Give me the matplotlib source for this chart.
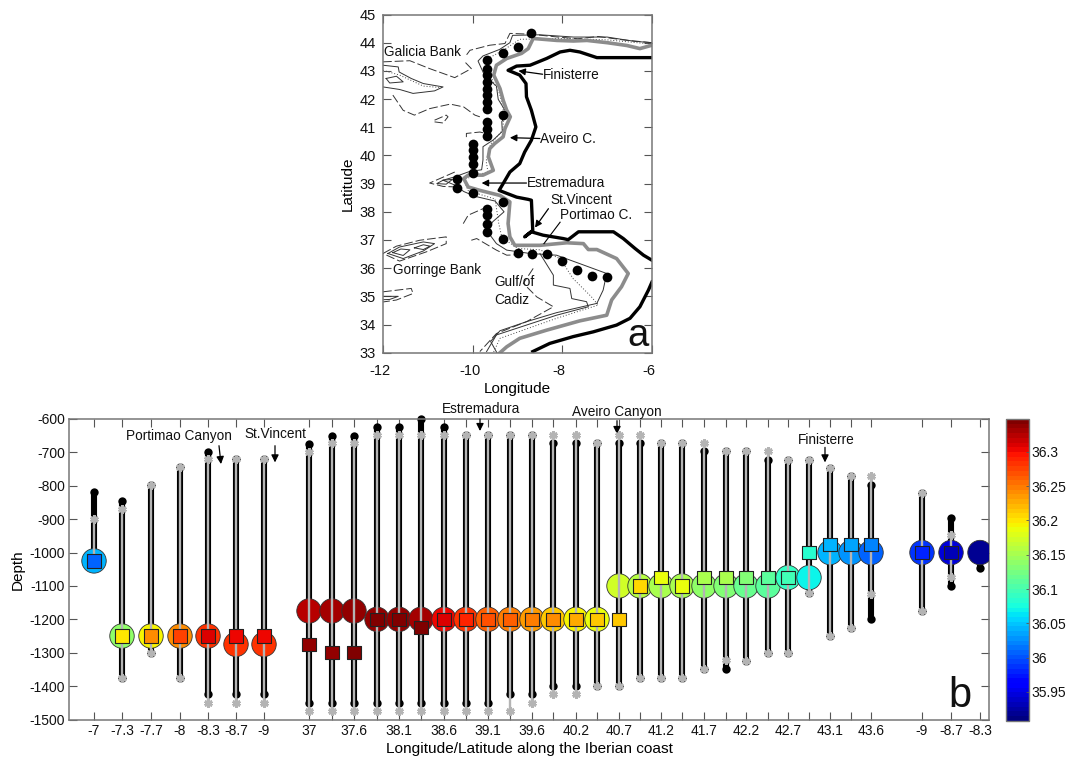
import matplotlib
matplotlib.use('Agg')
import matplotlib.pyplot as plt
import matplotlib.transforms as mtrans

plt.rcParams['font.family'] = ['Liberation Sans', 'DejaVu Sans']
plt.rcParams['axes.unicode_minus'] = False

W, H = 1067, 757

# ---- panel a: map
thick_black_n = [(-6, 43.47), (-7.23, 43.47), (-7.61, 43.67), (-7.83, 43.73), (-8.05, 43.67), (-8.35, 43.44),
                 (-8.72, 43.2), (-9.02, 43.17), (-9.21, 43.02), (-8.95, 42.85), (-8.81, 42.55), (-8.8, 42.08),
                 (-8.69, 41.6), (-8.59, 41.01), (-8.69, 40.54), (-8.84, 40.12), (-8.95, 39.71), (-9.17, 39.41),
                 (-9.32, 39.0), (-9.41, 38.76), (-9.25, 38.66), (-9.02, 38.52), (-8.76, 38.44), (-8.69, 38.41),
                 (-8.66, 37.34), (-8.84, 37.11), (-8.69, 37.29), (-8.43, 37.17), (-7.98, 37.05), (-7.87, 37.01),
                 (-7.64, 37.29), (-6.86, 37.29), (-6.64, 37.05), (-6.38, 36.7), (-6.19, 36.46), (-6, 36.28)]
thick_black_s = [(-6, 35.51), (-6.08, 35.22), (-6.27, 34.63), (-6.49, 34.22), (-6.79, 33.98), (-7.31, 33.74),
                 (-7.76, 33.57), (-8.28, 33.33), (-8.66, 33.04)]
thick_gray = [(-6, 43.91), (-6.27, 43.79), (-6.56, 43.9), (-7.0, 44.0), (-7.45, 44.08), (-7.75, 44.06), (-8.12, 44.08),
              (-8.65, 44.15), (-8.76, 43.79), (-8.91, 43.62), (-9.24, 43.44), (-9.47, 43.2), (-9.53, 42.85),
              (-9.39, 42.37), (-9.32, 41.96), (-9.24, 41.6), (-9.16, 41.37), (-9.28, 40.95), (-9.32, 40.66),
              (-9.51, 40.42), (-9.62, 40.24), (-9.65, 39.95), (-9.54, 39.47), (-9.77, 39.3), (-10.1, 39.3),
              (-10.2, 39.18), (-10.1, 38.88), (-9.84, 38.76), (-9.39, 38.58), (-9.17, 38.35), (-9.21, 37.58),
              (-9.17, 37.11), (-9.06, 36.81), (-8.5, 36.81), (-7.9, 36.9), (-7.53, 36.87), (-7.42, 36.66),
              (-7.23, 36.66), (-6.79, 36.34), (-6.53, 35.81), (-6.68, 35.34), (-6.9, 34.87), (-7.01, 34.33),
              (-7.61, 34.13), (-8.35, 33.8), (-8.95, 33.51), (-9.24, 33.21), (-9.39, 33)]

thin_lines = [
    [(-6, 44.0), (-6.4, 44.05), (-7.0, 44.2), (-7.75, 44.2), (-8.5, 44.28), (-9.11, 44.26), (-9.17, 44.0), (-9.4, 43.76),
     (-9.77, 43.53), (-9.88, 43.35), (-9.73, 42.82), (-9.47, 42.46), (-9.43, 41.99), (-9.24, 41.5), (-9.35, 41.2),
     (-9.34, 40.85), (-9.54, 40.55), (-9.77, 40.31), (-9.77, 39.84), (-9.8, 39.49), (-10.07, 39.43), (-10.4, 39.24),
     (-10.66, 39.12), (-10.4, 38.95), (-10.2, 38.72), (-9.95, 38.55), (-9.5, 38.38), (-9.3, 38.0), (-9.55, 37.65),
     (-9.69, 37.34), (-9.47, 36.87), (-9.24, 36.64), (-8.72, 36.52), (-8.13, 36.46), (-7.61, 36.16), (-7.01, 35.81),
     (-7.09, 35.22), (-7.23, 34.75)],
    [(-8.5, 36.52), (-8.2, 35.75), (-8.2, 35.4), (-7.83, 35.28), (-7.79, 34.92), (-7.46, 34.81), (-7.42, 34.63),
     (-8.13, 34.33), (-8.8, 33.98), (-9.47, 33.63), (-9.69, 33.04)],
    [(-7.23, 34.75), (-8.13, 34.42), (-8.8, 34.1), (-9.39, 33.78), (-9.6, 33.4), (-9.46, 33.0)],
    [(-12, 43.2), (-11.66, 43.14), (-11.64, 42.96), (-11.37, 42.73), (-11.1, 42.55), (-10.66, 42.43), (-10.85, 42.29),
     (-11.33, 42.2), (-11.63, 42.34), (-12, 42.43)],
    [(-11.93, 42.73), (-11.7, 42.81), (-11.55, 42.61), (-11.85, 42.57), (-11.93, 42.73)],
    [(-11.89, 36.52), (-11.63, 36.75), (-11.1, 36.93), (-10.85, 36.87), (-11.1, 36.61), (-11.55, 36.34), (-11.89, 36.52)],
    [(-11.78, 36.55), (-11.6, 36.68), (-11.4, 36.65), (-11.55, 36.45), (-11.78, 36.55)],
    [(-11.3, 36.72), (-11.1, 36.83), (-10.95, 36.78), (-11.1, 36.66), (-11.3, 36.72)],
    [(-12, 35.0), (-11.66, 35.0), (-11.85, 34.89), (-12, 34.88)],
    [(-10.66, 39.12), (-10.45, 39.15), (-10.59, 38.98), (-10.8, 39.0), (-10.66, 39.12)],
]
dotted_lines = [
    [(-6, 43.95), (-7.0, 44.1), (-8.0, 44.15), (-8.95, 44.12), (-9.3, 43.75), (-9.7, 43.4), (-9.6, 42.8), (-9.4, 42.2),
     (-9.3, 41.5), (-9.33, 40.9), (-9.6, 40.4), (-9.7, 39.8), (-9.66, 39.42), (-10.2, 39.15), (-10.1, 38.75),
     (-9.5, 38.45), (-9.42, 37.6), (-9.35, 37.1), (-9.0, 36.7), (-8.5, 36.65), (-8.05, 36.34), (-7.76, 35.63),
     (-7.35, 34.98), (-7.2, 34.69), (-8.13, 34.22), (-9.39, 33.51), (-9.54, 33)],
    [(-12, 43.02), (-11.63, 42.85), (-11.1, 42.46), (-10.73, 42.41)],
]
dashed_lines = [
    [(-6, 44.0), (-6.65, 44.1), (-7.2, 44.22), (-7.65, 44.14), (-8.1, 44.2), (-8.7, 44.3), (-9.17, 44.33), (-9.28, 43.97),
     (-9.62, 43.91), (-10.06, 43.73), (-10.14, 43.56)],
    [(-12, 43.32), (-11.4, 43.36), (-10.96, 43.08), (-10.4, 42.76), (-10.03, 43.08), (-10.2, 43.36)],
    [(-11.78, 42.14), (-11.55, 41.6), (-11.3, 41.43), (-10.96, 41.66), (-10.5, 41.82), (-10.2, 41.72), (-9.95, 41.43),
     (-9.84, 41.37)],
    [(-10.85, 41.25), (-10.59, 41.43), (-10.55, 41.37), (-10.66, 41.15), (-10.85, 41.19)],
    [(-10.14, 40.65), (-10.14, 40.78), (-9.84, 40.83), (-9.7, 40.78)],
    [(-10.4, 39.41), (-10.96, 39.02), (-10.66, 38.9), (-10.36, 38.88)],
    [(-10.21, 37.58), (-10.1, 37.88), (-9.77, 38.11)],
    [(-10.03, 36.99), (-9.91, 37.05), (-9.47, 36.64), (-9.24, 36.46), (-8.9, 36.48)],
    [(-8.65, 35.99), (-8.87, 35.46), (-8.57, 34.98), (-8.2, 34.63), (-8.8, 34.1), (-9.47, 33.68), (-9.84, 33.04)],
    [(-12, 36.52), (-11.7, 36.78), (-11.18, 36.99), (-10.59, 37.11), (-10.59, 36.87), (-11.03, 36.58), (-11.63, 36.25),
     (-12, 36.52)],
    [(-12, 35.16), (-11.37, 35.28), (-11.33, 35.1), (-11.7, 34.87), (-12, 34.8)],
]
station_lon = [-8.69, -9, -9.32, -9.68, -9.68, -9.68, -9.68, -9.68, -9.68, -9.68, -9.68, -9.32, -9.68, -9.68, -9.68,
               -9.99, -9.99, -9.99, -9.99, -9.99, -10.35, -10.35, -10, -9.33, -9.68, -9.68, -9.68, -9.68, -9.33,
               -9, -8.68, -8.34, -8.01, -7.67, -7.34, -7.01]
station_lat = [44.35, 43.85, 43.62, 43.38, 43.08, 42.85, 42.61, 42.37, 42.14, 41.9, 41.66, 41.43, 41.19, 40.95, 40.68,
               40.42, 40.18, 39.95, 39.71, 39.38, 39.18, 38.86, 38.65, 38.35, 38.11, 37.88, 37.58, 37.29, 37.05,
               36.52, 36.49, 36.49, 36.25, 35.95, 35.72, 35.69]
map_labels = [('Galicia Bank', -11.98, 43.66), ('Finisterre', -8.43, 42.85), ('Aveiro C.', -8.5, 40.6),
              ('Estremadura', -8.79, 39.03), ('St.Vincent', -8.27, 38.41), ('Portimao C.', -8.05, 37.88),
              ('Gorringe Bank', -11.78, 35.93), ('Gulf/of', -9.52, 35.5), ('Cadiz', -9.52, 34.87)]
map_arrows = [(-8.44, 42.88, -8.98, 43.0), (-8.5, 40.6, -9.17, 40.63), (-8.8, 39.02, -9.8, 39.02),
              (-8.31, 38.11, -8.61, 37.44)]

# ---- panel b: section
pos = [94, 122, 151, 180, 208, 236, 264, 309, 332, 354, 377, 399, 421, 444, 466, 488, 510, 532, 553, 576, 597, 619,
       640, 661, 682, 704, 726, 746, 768, 788, 809, 830, 851, 871, 922, 951, 980]
pos_labels = ['-7', '-7.3', '-7.7', '-8', '-8.3', '-8.7', '-9', '37', '', '37.6', '', '38.1', '', '38.6', '', '39.1',
              '', '39.6', '', '40.2', '', '40.7', '', '41.2', '', '41.7', '', '42.2', '', '42.7', '', '43.1', '',
              '43.6', '-9', '-8.7', '-8.3']
black_top = [-820, -847, -797, -745, -700, -720, -720, -675, -650, -650, -623, -623, -600, -623, -648, -648, -648,
             -648, -672, -672, -672, -672, -672, -672, -672, -697, -697, -697, -722, -722, -722, -747, -772, -797,
             -822, -897, -1000]
black_bot = [-1025, -1375, -1300, -1375, -1425, -1425, -1425, -1450, -1450, -1450, -1450, -1450, -1450, -1450, -1450,
             -1450, -1425, -1425, -1400, -1400, -1400, -1400, -1375, -1375, -1375, -1350, -1350, -1325, -1300, -1300,
             -1122, -1250, -1225, -1200, -1175, -1100, -1047]
gray_top = [-900, -870, -797, -745, -720, -720, -720, -700, -672, -672, -648, -648, -648, -648, -648, -648, -648,
            -648, -648, -648, -672, -648, -648, -672, -672, -672, -697, -697, -697, -722, -722, -747, -772, -772,
            -822, -947, None]
gray_bot = [-1025, -1375, -1300, -1375, -1450, -1450, -1450, -1475, -1475, -1475, -1475, -1475, -1475, -1475, -1475,
            -1475, -1475, -1450, -1425, -1425, -1400, -1400, -1375, -1375, -1375, -1350, -1322, -1325, -1300, -1300,
            -1122, -1250, -1225, -1125, -1175, -1073, None]
circle_depth = [-1025, -1250, -1250, -1250, -1250, -1275, -1275, -1175, -1175, -1175, -1200, -1200, -1200, -1200,
                -1200, -1200, -1200, -1200, -1200, -1200, -1200, -1100, -1100, -1100, -1100, -1100, -1100, -1100,
                -1100, -1075, -1075, -1000, -1000, -1000, -1000, -1000, -1000]
circle_sal = [36.045, 36.14, 36.19, 36.24, 36.28, 36.285, 36.285, 36.325, 36.33, 36.335, 36.335, 36.335, 36.33, 36.30,
              36.285, 36.26, 36.25, 36.235, 36.215, 36.195, 36.185, 36.17, 36.16, 36.155, 36.15, 36.14, 36.13, 36.12,
              36.11, 36.09, 36.07, 36.045, 36.025, 36.01, 35.985, 35.945, 35.92]
square_depth = [-1025, -1250, -1250, -1250, -1250, -1250, -1250, -1275, -1300, -1300, -1200, -1200, -1225, -1200,
                -1200, -1200, -1200, -1200, -1200, -1200, -1200, -1200, -1100, -1075, -1100, -1075, -1075, -1075,
                -1075, -1075, -1000, -975, -975, -975, -1000, -1000, None]
square_sal = [36.007, 36.2, 36.238, 36.278, 36.31, 36.30, 36.30, 36.335, 36.34, 36.348, 36.348, 36.348, 36.348, 36.31,
              36.29, 36.27, 36.265, 36.25, 36.24, 36.23, 36.215, 36.215, 36.205, 36.185, 36.185, 36.155, 36.15, 36.13,
              36.11, 36.095, 36.08, 36.045, 36.035, 36.02, 35.98, 35.93, None]
section_labels = [('Portimao Canyon', 126, -650), ('St.Vincent', 244, -645), ('Estremadura', 442, -570),
                  ('Aveiro Canyon', 572, -578), ('Finisterre', 798, -662)]
section_arrows = [(219, -680, 221, -735), (275, -680, 275, -730), (480, -600, 480, -636), (617, -605, 617, -645),
                  (825, -685, 825, -730)]
cb_ticks = [35.95, 36, 36.05, 36.1, 36.15, 36.2, 36.25, 36.3]
cb_labels = ['35.95', '36', '36.05', '36.1', '36.15', '36.2', '36.25', '36.3']
sal_min, sal_max = 35.908, 36.348
depth_ticks = list(range(-1500, -500, 100))


def px_axes(left, top, right, bottom):
    return fig.add_axes([left / W, 1 - bottom / H, (right - left) / W, (bottom - top) / H])


def draw(ax, pts, **kw):
    ax.plot([p[0] for p in pts], [p[1] for p in pts], **kw)


def style(ax, size):
    ax.tick_params(direction='in', top=True, right=True, length=5.5, width=0.8, color='#555555', labelsize=size,
                   labelcolor='#111111', pad=3)
    for s in ax.spines.values():
        s.set_color('#777777')
        s.set_linewidth(1.1)


fig = plt.figure(figsize=(W / 100, H / 100), dpi=100)
cmap = plt.get_cmap('jet', 64)
norm = plt.Normalize(sal_min, sal_max)
shift = mtrans.ScaledTranslation(-3 / 100, 0, fig.dpi_scale_trans)

#Map.
ax = px_axes(383, 14.5, 652, 352.7)
for line in dashed_lines:
    draw(ax, line, color='#333333', lw=0.7, ls=(0, (9, 3)))
for line in thin_lines:
    draw(ax, line, color='#333333', lw=0.7)
for line in dotted_lines:
    draw(ax, line, color='#444444', lw=0.7, ls=(0, (1, 2)))
draw(ax, thick_gray, color='#8c8c8c', lw=2.6)
draw(ax, thick_black_n, color='black', lw=2.4)
draw(ax, thick_black_s, color='black', lw=2.4)
ax.plot(station_lon, station_lat, 'o', color='black', ms=7, mew=0, zorder=4)
for txt, x, y in map_labels:
    ax.text(x, y, txt, fontsize=9.8, va='center', ha='left', color='#111111', zorder=5)
for x0, y0, x1, y1 in map_arrows:
    ax.annotate('', xy=(x1, y1), xytext=(x0, y0), arrowprops=dict(arrowstyle='-|>', color='black', lw=0.9,
                                                                  mutation_scale=10, shrinkA=0, shrinkB=0))
ax.plot([-8.05, -8.41], [37.63, 36.87], color='black', lw=0.8)
ax.text(-6.55, 33.24, 'a', fontsize=27.5, va='baseline', ha='left', color='#111111')
ax.set_xlim(-12, -6)
ax.set_ylim(33, 45)
ax.set_xticks([-12, -10, -8, -6])
ax.set_yticks(range(33, 46))
style(ax, 10.5)
ax.tick_params(axis='x', pad=8)
ax.tick_params(axis='y', pad=5)
for lab in ax.get_xticklabels():
    lab.set_transform(lab.get_transform() + shift)
ax.set_xlabel('Longitude', fontsize=11, labelpad=3)
ax.set_ylabel('Latitude', fontsize=11, labelpad=3.5)

#Section.
ax = px_axes(69, 419, 989, 719.5)
ax.vlines(pos, black_top, black_bot, color='black', lw=4.4, zorder=2)
ax.plot(pos, black_top, 'o', color='black', ms=6, mew=0, zorder=2.1, clip_on=False)
ax.plot(pos, black_bot, 'o', color='black', ms=6, mew=0, zorder=2.1)
ax.scatter(pos, circle_depth, s=310, c=circle_sal, cmap=cmap, norm=norm, edgecolors='#333333', linewidths=0.6, zorder=3)
ax.vlines(pos[:-1], gray_top[:-1], gray_bot[:-1], color='#b4b4b4', lw=1.7, zorder=4)
ax.plot(pos[:-1], gray_top[:-1], ls='none', marker=(6, 2, 0), color='#b4b4b4', ms=6, mew=2, zorder=4.1)
ax.plot(pos[:-1], gray_bot[:-1], ls='none', marker=(6, 2, 0), color='#b4b4b4', ms=6, mew=2, zorder=4.1)
ax.scatter(pos[:-1], square_depth[:-1], s=92, marker='s', c=square_sal[:-1], cmap=cmap, norm=norm, edgecolors='#222222',
           linewidths=0.8, zorder=5)
for txt, x, y in section_labels:
    ax.text(x, y, txt, fontsize=9.8, va='center', ha='left', color='#111111', zorder=6, clip_on=False)
for x0, y0, x1, y1 in section_arrows:
    ax.annotate('', xy=(x1, y1), xytext=(x0, y0), arrowprops=dict(arrowstyle='-|>', color='black', lw=0.9,
                                                                  mutation_scale=11, shrinkA=0, shrinkB=0))
ax.text(948, -1463, 'b', fontsize=30, va='baseline', ha='left', color='#111111')
ax.set_xlim(69, 989)
ax.set_ylim(-1500, -600)
ax.set_xticks(pos)
ax.set_xticklabels(pos_labels)
ax.set_yticks(depth_ticks)
style(ax, 10)
for lab in ax.get_xticklabels():
    lab.set_transform(lab.get_transform() + shift)
ax.tick_params(axis='x', pad=3.5)
ax.set_xlabel('Longitude/Latitude along the Iberian coast', fontsize=11.1, labelpad=2.5)
ax.set_ylabel('Depth', fontsize=11, labelpad=3)

#Colorbar.
cax = px_axes(1005.7, 419, 1029, 720.7)
sm = plt.cm.ScalarMappable(norm=norm, cmap=cmap)
cb = fig.colorbar(sm, cax=cax, ticks=cb_ticks)
cb.set_ticklabels(cb_labels)
cb.ax.tick_params(direction='in', length=2, width=0.6, color='#555555', labelsize=10, labelcolor='#111111', pad=2)
cb.outline.set_edgecolor('#777777')
cb.outline.set_linewidth(1.0)

fig.savefig('out.png', dpi=100)
